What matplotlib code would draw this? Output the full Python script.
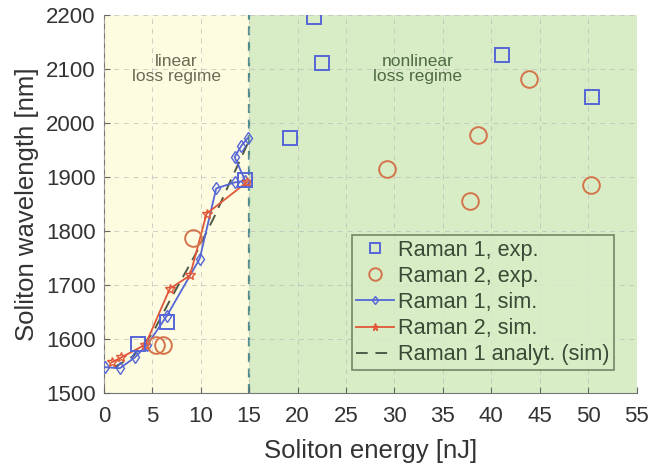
import numpy as np
import matplotlib

matplotlib.use("Agg")
import matplotlib.pyplot as plt  # noqa: E402

plt.rcParams["font.family"] = ["Liberation Sans", "DejaVu Sans"]

# experimental points
r1_exp_e = [3.5, 6.5, 14.6, 19.2, 21.7, 22.5, 41.1, 50.4]
r1_exp_wl = [1591, 1631, 1894, 1972, 2196, 2111, 2126, 2048]
r2_exp_e = [5.4, 6.1, 9.2, 29.2, 37.8, 38.6, 43.9, 50.3]
r2_exp_wl = [1589, 1589, 1788, 1914, 1855, 1977, 2081, 1886]

# simulations
r1_sim_e = [0.1, 1.65, 3.2, 4.5, 6.5, 9.9, 11.6, 13.5, 14.6, 13.5, 14.2, 14.9]
r1_sim_wl = [1548, 1546, 1566, 1590, 1643, 1749, 1879, 1890, 1893, 1937, 1958, 1973]
r2_sim_e = [0.8, 1.8, 4.3, 6.8, 8.9, 10.6, 14.8]
r2_sim_wl = [1557, 1566, 1590, 1693, 1718, 1832, 1891]

# analytical estimate
an_e = [1.0, 3.0, 5.0, 6.8, 9.4, 11.5, 13.0, 15.0]
an_wl = [1547, 1568, 1610, 1671, 1755, 1830, 1890, 1968]

BLUE = "#5566d6"
RED = "#e0573a"
ORANGE = "#d4744a"
TXT = "#333333"

fig = plt.figure(figsize=(6.49, 4.68), dpi=100)
ax = fig.add_axes([0.160, 0.160, 0.821, 0.808])

# regime shading
ax.axvspan(0, 15, color="#fdfbe0", zorder=0)
ax.axvspan(15, 55, color="#d8edc6", zorder=0)
ax.axvline(15, color="#4f8c8c", linestyle=(0, (4, 3)), linewidth=1.6, zorder=1)

ax.plot(an_e, an_wl, linestyle=(0, (6, 4)), color="#4d5a48", linewidth=1.4,
        label="Raman 1 analyt. (sim)", zorder=3)
ax.plot(r1_sim_e, r1_sim_wl, color=BLUE, marker="d", markersize=6,
        markerfacecolor="none", linewidth=1.3, label="Raman 1, sim.", zorder=4)
ax.plot(r2_sim_e, r2_sim_wl, color=RED, marker="*", markersize=7,
        markerfacecolor="none", linewidth=1.3, label="Raman 2, sim.", zorder=4)
ax.plot(r1_exp_e, r1_exp_wl, linestyle="none", marker="s", markersize=9.5,
        markerfacecolor="none", markeredgecolor=BLUE, markeredgewidth=1.4,
        label="Raman 1, exp.", zorder=5)
ax.plot(r2_exp_e, r2_exp_wl, linestyle="none", marker="o", markersize=12,
        markerfacecolor="none", markeredgecolor=ORANGE, markeredgewidth=1.4,
        label="Raman 2, exp.", zorder=5)

ax.text(7.5, 2100, "linear\nloss regime", ha="center", va="center",
        fontsize=12.5, color="#6b6b55", linespacing=1.0)
ax.text(32.4, 2100, "nonlinear\nloss regime", ha="center", va="center",
        fontsize=12.5, color="#4f6a46", linespacing=1.0)

ax.set_xlim(0, 55)
ax.set_ylim(1500, 2200)
ax.set_xticks(np.arange(0, 56, 5))
ax.set_yticks(np.arange(1500, 2201, 100))
ax.tick_params(direction="in", labelsize=16, colors="#666666",
               labelcolor=TXT, length=4)
ax.tick_params(axis="x", pad=9)
ax.tick_params(axis="y", pad=6)
ax.grid(True, linestyle=(0, (5, 5)), color="#bbbbbb", linewidth=0.7, alpha=0.7)
ax.set_axisbelow(False)
for s in ax.spines.values():
    s.set_color("#777777")
    s.set_linewidth(0.8)
ax.spines["top"].set_visible(False)
ax.spines["right"].set_visible(False)

ax.set_xlabel("Soliton energy [nJ]", fontsize=18.5, color=TXT, labelpad=9)
ax.set_ylabel("Soliton wavelength [nm]", fontsize=18.5, color=TXT, labelpad=5)

handles, labels = ax.get_legend_handles_labels()
order = [3, 4, 1, 2, 0]
leg = ax.legend([handles[i] for i in order], [labels[i] for i in order],
                loc="lower right", bbox_to_anchor=(0.958, 0.062),
                fontsize=15.6, frameon=True, fancybox=False,
                facecolor="#d8edc6", edgecolor="#5a6e52",
                handlelength=1.75, handletextpad=0.2, borderpad=0.2,
                borderaxespad=0.0, labelspacing=0.24, markerscale=0.75)
leg.get_frame().set_linewidth(1.2)
for t in leg.get_texts():
    t.set_color("#3a4a36")

fig.savefig("out.png", dpi=100)
